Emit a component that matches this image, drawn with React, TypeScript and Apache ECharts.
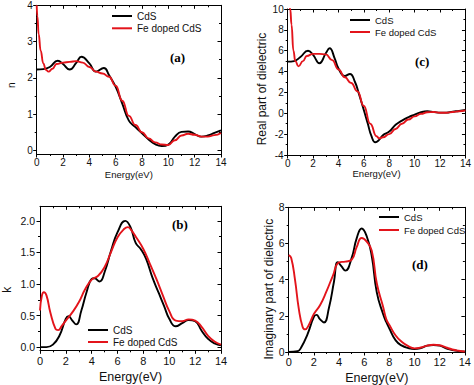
import React, { useEffect, useRef } from 'react';
import * as echarts from 'echarts';

// ---------- data ----------
// (a) refractive index n
const nCdsE = [0, 0.5, 1, 1.6, 2, 2.5, 3, 3.4, 4, 4.5, 5.1, 5.5, 6, 6.5, 7, 7.5, 8, 8.5, 9, 9.5, 10, 10.5, 11, 11.5, 12, 12.5, 13, 13.5, 14];
const nCds = [2.23, 2.24, 2.3, 2.47, 2.38, 2.23, 2.41, 2.58, 2.4, 2.17, 2.27, 2.07, 1.75, 1.29, 0.82, 0.64, 0.47, 0.3, 0.17, 0.12, 0.16, 0.38, 0.51, 0.52, 0.45, 0.38, 0.41, 0.48, 0.55];
const nFeE = [0, 0.05, 0.15, 0.3, 0.5, 0.7, 0.9, 1.2, 1.5, 2, 2.5, 3, 3.5, 4, 4.5, 5, 5.5, 6, 6.5, 7, 7.5, 8, 8.5, 9, 9.5, 10, 10.5, 11, 11.5, 12, 12.5, 13, 13.5, 14];
const nFe = [4.0, 3.7, 3.2, 2.75, 2.4, 2.22, 2.17, 2.25, 2.38, 2.42, 2.44, 2.46, 2.42, 2.3, 2.17, 2.12, 2.03, 1.78, 1.37, 0.95, 0.7, 0.5, 0.33, 0.22, 0.16, 0.15, 0.28, 0.41, 0.46, 0.43, 0.38, 0.38, 0.42, 0.48];

// (b) extinction coefficient k
const kCdsE = [0, 0.5, 1, 1.5, 2, 2.2, 2.5, 2.8, 3.2, 3.6, 4, 4.2, 4.6, 5, 5.5, 6, 6.6, 7, 7.4, 7.8, 8.2, 8.7, 9.2, 9.6, 10, 10.5, 11, 11.5, 12, 12.5, 13, 13.5, 14];
const kCds = [0, 0, 0.04, 0.18, 0.45, 0.49, 0.42, 0.36, 0.58, 0.87, 1.08, 1.09, 1.04, 1.19, 1.53, 1.82, 2.0, 1.9, 1.65, 1.55, 1.4, 1.1, 0.85, 0.65, 0.45, 0.33, 0.38, 0.43, 0.41, 0.26, 0.13, 0.06, 0.03];
const kFeE = [0, 0.15, 0.3, 0.5, 0.8, 1.2, 1.4, 1.7, 2, 2.5, 3, 3.5, 4, 4.5, 5, 5.5, 6, 6.5, 6.8, 7, 7.5, 8, 8.5, 9, 9.5, 10, 10.5, 11, 11.5, 12, 12.5, 13, 13.5, 14];
const kFe = [0.58, 0.82, 0.87, 0.82, 0.55, 0.29, 0.27, 0.34, 0.42, 0.55, 0.71, 0.92, 1.07, 1.13, 1.27, 1.51, 1.74, 1.87, 1.9, 1.87, 1.72, 1.55, 1.32, 1.08, 0.82, 0.57, 0.42, 0.41, 0.44, 0.42, 0.32, 0.18, 0.09, 0.04];

// (c) real part of dielectric
const eCdsE = [0, 0.5, 1, 1.6, 2, 2.5, 3, 3.3, 3.7, 4, 4.5, 4.9, 5.3, 5.6, 6, 6.3, 6.6, 6.9, 7.2, 7.5, 8, 8.5, 9, 9.5, 10, 10.5, 11, 11.5, 12, 12.5, 13, 13.5, 14];
const eCds = [4.95, 5.0, 5.4, 6.0, 5.6, 4.8, 5.75, 6.23, 5.27, 4.3, 3.58, 3.77, 3.0, 1.9, 0.3, -0.96, -2.2, -2.78, -2.55, -2.1, -1.75, -1.1, -0.7, -0.38, -0.13, 0.1, 0.19, 0.13, 0.06, 0.06, 0.16, 0.22, 0.32];
const eFeE = [0, 0.2, 0.3, 0.45, 0.6, 0.85, 1.2, 1.5, 2, 2.5, 3, 3.5, 4, 4.5, 5, 5.5, 6, 6.5, 7, 7.2, 7.5, 8, 8.5, 9, 9.5, 10, 10.5, 11, 11.5, 12, 12.5, 13, 13.5, 14];
const eFe = [12, 10, 8.5, 6, 5.0, 4.5, 5.0, 5.5, 5.7, 5.7, 5.65, 5.1, 4.2, 3.45, 2.9, 2.1, 0.7, -1.0, -2.2, -2.4, -2.3, -2.0, -1.5, -1.0, -0.6, -0.3, -0.05, 0.1, 0.12, 0.05, 0.05, 0.13, 0.2, 0.28];

// (d) imaginary part of dielectric
const iCdsE = [0, 0.7, 1, 1.5, 2, 2.2, 2.5, 2.8, 3.2, 3.6, 3.9, 4.2, 4.5, 5, 5.4, 5.8, 6.2, 6.6, 7, 7.5, 7.75, 8, 8.5, 9, 9.5, 10, 10.5, 11, 11.5, 12, 12.5, 13, 13.5, 14];
const iCds = [0, 0.04, 0.26, 0.99, 1.94, 2.05, 1.8, 1.63, 2.45, 3.9, 4.97, 4.73, 4.5, 5.19, 6.28, 6.83, 6.4, 5.3, 3.3, 2.1, 1.66, 1.3, 0.64, 0.35, 0.22, 0.17, 0.22, 0.35, 0.38, 0.35, 0.2, 0.11, 0.05, 0.02];
const iFeE = [0, 0.2, 0.5, 0.8, 1.1, 1.3, 1.6, 2, 2.5, 3, 3.5, 4, 4.5, 5, 5.4, 5.8, 6.2, 6.6, 7, 7.5, 7.75, 8, 8.5, 9, 9.5, 10, 10.5, 11, 11.5, 12, 12.5, 13, 13.5, 14];
const iFe = [5.35, 5.2, 4.0, 2.4, 1.4, 1.25, 1.5, 2.1, 2.6, 3.35, 4.2, 4.95, 5.0, 5.1, 5.8, 6.3, 6.1, 5.6, 3.8, 2.5, 1.82, 1.5, 0.91, 0.55, 0.32, 0.2, 0.25, 0.35, 0.4, 0.37, 0.25, 0.14, 0.07, 0.03];

// ---------- ticks ----------
const eMajor = [0, 2, 4, 6, 8, 10, 12, 14];
const eMinor = [1, 3, 5, 7, 9, 11, 13];
const nMajor = [0, 1, 2, 3, 4];
const nMinor = [0.5, 1.5, 2.5, 3.5];
const kMajor = [0, 0.5, 1, 1.5, 2];
const kMinor = [0.25, 0.75, 1.25, 1.75];
const reMajor = [-4, -2, 0, 2, 4, 6, 8, 10];
const reMinor = [-3, -1, 1, 3, 5, 7, 9];
const imMajor = [0, 2, 4, 6, 8];
const imMinor = [1, 3, 5, 7];

const SERIES_NAMES = ['CdS', 'Fe doped CdS'];
const PANEL_LABELS = ['(a)', '(b)', '(c)', '(d)'];

const BLACK = '#000000';
const RED = '#e3141b';
const TXT = '#111111';
const FONT = '"Liberation Sans", Arial, Helvetica, sans-serif';

type AxisCfg = {
  min: number; max: number; majors: number[]; minors: number[];
  fontSize: number; margin: number; fmt?: (v: number) => string;
  name: string; nameSize: number; nameGap: number; namePad?: number[];
};

function buildAxes(dim: 'x' | 'y', gridIndex: number, c: AxisCfg): any[] {
  const main = dim === 'x' ? 'bottom' : 'left';
  const mirror = dim === 'x' ? 'top' : 'right';
  const line = { color: '#000', width: 1 };
  const base: any = { type: 'value', gridIndex, min: c.min, max: c.max, splitLine: { show: false }, silent: true };
  const label: any = { show: true, customValues: c.majors, fontSize: c.fontSize, margin: c.margin, color: TXT, fontFamily: FONT };
  if (c.fmt) label.formatter = c.fmt;
  const nts: any = { fontSize: c.nameSize, color: TXT, fontFamily: FONT };
  if (c.namePad) nts.padding = c.namePad;
  return [
    {
      ...base, position: main,
      axisLine: { show: true, onZero: false, lineStyle: line },
      axisTick: { show: true, inside: false, length: 3.5, customValues: c.majors, lineStyle: line },
      axisLabel: label,
      name: c.name, nameLocation: 'middle', nameGap: c.nameGap, nameRotate: dim === 'y' ? 90 : 0,
      nameTextStyle: nts,
    },
    {
      ...base, position: main,
      axisLine: { show: false, onZero: false },
      axisTick: { show: true, inside: false, length: 2, customValues: c.minors, lineStyle: line },
      axisLabel: { show: false },
    },
    {
      ...base, position: mirror,
      axisLine: { show: true, onZero: false, lineStyle: line },
      axisTick: { show: true, inside: true, length: 3.5, customValues: c.majors, lineStyle: line },
      axisLabel: { show: false },
    },
    {
      ...base, position: mirror,
      axisLine: { show: false, onZero: false },
      axisTick: { show: true, inside: true, length: 2, customValues: c.minors, lineStyle: line },
      axisLabel: { show: false },
    },
  ];
}

function ser(name: string, xs: number[], ys: number[], color: string, gi: number, steep = false) {
  const s: any = {
    type: 'line', name, xAxisIndex: gi * 4, yAxisIndex: gi * 4,
    data: xs.map((x, i) => [x, ys[i]]),
    symbol: 'none', smooth: 0.5, clip: true, silent: true,
    lineStyle: { color, width: 1.9 }, itemStyle: { color },
  };
  if (steep) s.smoothMonotone = 'x';
  return s;
}

function legend(left: number, top: number, gap: number, size: number) {
  return {
    left, top, orient: 'vertical', padding: 0, itemGap: gap, icon: 'rect',
    itemWidth: 20, itemHeight: 2, selectedMode: false, data: SERIES_NAMES,
    textStyle: { fontSize: size, color: TXT, fontFamily: FONT, lineHeight: 12 },
  };
}

function panelLabel(text: string, x: number, y: number) {
  return {
    type: 'text', x, y,
    style: { text, fontSize: 13, fontWeight: 'bold', fontFamily: '"Liberation Serif", "Times New Roman", serif', fill: '#000', verticalAlign: 'middle' },
  };
}

export default function App() {
  const ref = useRef<HTMLDivElement>(null);
  useEffect(() => {
    const chart = echarts.init(ref.current!, null, { renderer: 'svg' });
    const f1 = (v: number) => v.toFixed(1);
    const xAxes = [
      ...buildAxes('x', 0, { min: 0, max: 14, majors: eMajor, minors: eMinor, fontSize: 10, margin: 3, name: 'Energy(eV)', nameSize: 9.5, nameGap: 15 }),
      ...buildAxes('x', 1, { min: 0, max: 14, majors: eMajor, minors: eMinor, fontSize: 11, margin: 5, name: 'Energy(eV)', nameSize: 12.5, nameGap: 20 }),
      ...buildAxes('x', 2, { min: 0, max: 14, majors: eMajor, minors: eMinor, fontSize: 10, margin: 3, name: 'Energy(eV)', nameSize: 9.5, nameGap: 13 }),
      ...buildAxes('x', 3, { min: 0, max: 14, majors: eMajor, minors: eMinor, fontSize: 11, margin: 4, name: 'Energy(eV)', nameSize: 12.5, nameGap: 19 }),
    ];
    const yAxes = [
      ...buildAxes('y', 0, { min: -0.1, max: 4, majors: nMajor, minors: nMinor, fontSize: 10, margin: 4, name: 'n', nameSize: 10, nameGap: 20, namePad: [0, 11, 0, 0] }),
      ...buildAxes('y', 1, { min: -0.05, max: 2.23, majors: kMajor, minors: kMinor, fontSize: 10.5, margin: 5, fmt: f1, name: 'k', nameSize: 12, nameGap: 27, namePad: [0, 23, 0, 0] }),
      ...buildAxes('y', 2, { min: -4, max: 10, majors: reMajor, minors: reMinor, fontSize: 10, margin: 4, name: 'Real part of dielectric', nameSize: 12, nameGap: 20, namePad: [0, 14, 0, 0] }),
      ...buildAxes('y', 3, { min: 0, max: 8, majors: imMajor, minors: imMinor, fontSize: 10.5, margin: 4, name: 'Imaginary part of dielectric', nameSize: 12, nameGap: 14, namePad: [0, 19, 0, 0] }),
    ];
    const option: any = {
      animation: false,
      backgroundColor: '#ffffff',
      textStyle: { fontFamily: FONT },
      grid: [
        { left: 36.7, top: 5.3, width: 184.3, height: 148.7 },
        { left: 36.7, top: 206.3, width: 184.3, height: 144 },
        { left: 287.7, top: 9, width: 181, height: 146 },
        { left: 288.7, top: 207.3, width: 180, height: 146 },
      ],
      xAxis: xAxes,
      yAxis: yAxes,
      legend: [legend(112, 10, 0.3, 10), legend(88, 324, 0, 10), legend(350, 14, 0, 9.5), legend(379, 211, 1, 9.5)],
      series: [
        ser(SERIES_NAMES[0], nCdsE, nCds, BLACK, 0),
        ser(SERIES_NAMES[1], nFeE, nFe, RED, 0, true),
        ser(SERIES_NAMES[0], kCdsE, kCds, BLACK, 1),
        ser(SERIES_NAMES[1], kFeE, kFe, RED, 1),
        ser(SERIES_NAMES[0], eCdsE, eCds, BLACK, 2),
        ser(SERIES_NAMES[1], eFeE, eFe, RED, 2, true),
        ser(SERIES_NAMES[0], iCdsE, iCds, BLACK, 3),
        ser(SERIES_NAMES[1], iFeE, iFe, RED, 3),
      ],
      graphic: [
        panelLabel(PANEL_LABELS[0], 170, 57),
        panelLabel(PANEL_LABELS[1], 172, 224),
        panelLabel(PANEL_LABELS[2], 415, 61),
        panelLabel(PANEL_LABELS[3], 412, 264),
      ],
    };
    chart.setOption(option);
    return () => chart.dispose();
  }, []);
  return <div ref={ref} style={{ position: 'absolute', left: 0, top: 0, width: 474, height: 385 }} />;
}
